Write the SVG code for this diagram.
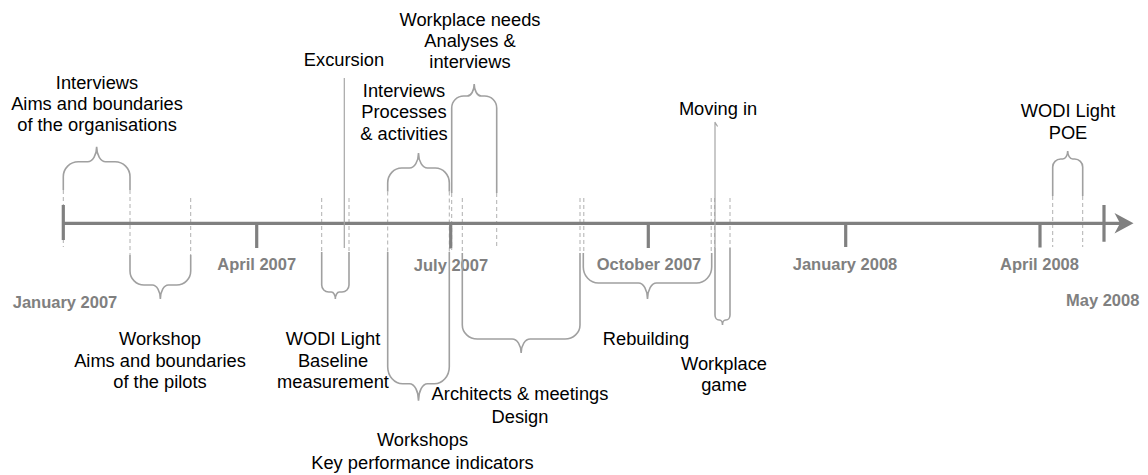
<svg xmlns="http://www.w3.org/2000/svg" width="1148" height="475" viewBox="0 0 1148 475">
<style>
.ev{font-family:"Liberation Sans",Arial,sans-serif;font-size:18.3px;fill:#000;text-anchor:middle}
.mo{font-family:"Liberation Sans",Arial,sans-serif;font-size:16.5px;font-weight:bold;fill:#808080;text-anchor:middle}
.br{fill:none;stroke:#a0a0a0;stroke-width:1.6}
.gd{fill:none;stroke:#b0b0b0;stroke-width:1;stroke-dasharray:4 3}
.ax{fill:none;stroke:#808080;stroke-width:3.3}
.tk{fill:none;stroke:#808080;stroke-width:3.2}
.ln{fill:none;stroke:#a6a6a6;stroke-width:1.2}
</style>
<rect width="1148" height="475" fill="#fff"/>
<g id="connectors">
<path class="gd" d="M63.3,190V247M130,190V255M190.7,198V255M321.7,198V252M349,198V252M387.7,191.5V252M449.3,191.5V252M451.7,193V250M462.3,198V253M496.7,193V248M580,198V253M583.8,198V253M711.2,198V253M714.6,198V248M730,198V248M1052.7,196V247M1082.7,196V247"/>
</g>
<g id="axis">
<path class="ax" d="M63,223.3H1121"/>
<polygon points="1133.5,223.3 1114.5,213 1120,223.3 1114.5,233.6" fill="#808080"/>
<path class="tk" d="M63.3,205V240M256.7,223V248M450.7,223V248.5M648.3,223V248M845.7,223V247M1040,223V247.5M1104,205V241.7"/>
</g>
<g id="months">
<text class="mo" x="65" y="308">January 2007</text>
<text class="mo" x="256.7" y="270">April 2007</text>
<text class="mo" x="451" y="270.5">July 2007</text>
<text class="mo" x="649" y="270">October 2007</text>
<text class="mo" x="845" y="270">January 2008</text>
<text class="mo" x="1039.5" y="270">April 2008</text>
<text class="mo" x="1102.7" y="306">May 2008</text>
</g>
<g id="interviews-organisations">
<path class="br" d="M63.3,190V176.7A15,15 0 0 1 78.3,161.7H87.65A9,15 0 0 0 96.65,146.7A9,15 0 0 0 105.65,161.7H115A15,15 0 0 1 130,176.7V190"/>
<text class="ev" x="97" y="89">Interviews</text>
<text class="ev" x="97" y="110">Aims and boundaries</text>
<text class="ev" x="97" y="131">of the organisations</text>
</g>
<g id="workshop-pilots">
<path class="br" d="M130,255V271A14,14 0 0 0 144,285H152.35A8,14 0 0 1 160.35,299A8,14 0 0 1 168.35,285H176.7A14,14 0 0 0 190.7,271V255"/>
<text class="ev" x="160" y="345">Workshop</text>
<text class="ev" x="160" y="366.5">Aims and boundaries</text>
<text class="ev" x="160" y="388">of the pilots</text>
</g>
<g id="wodi-baseline">
<path class="br" d="M321.7,252V285A7,7 0 0 0 328.7,292H331.35A4,7 0 0 1 335.35,299A4,7 0 0 1 339.35,292H342A7,7 0 0 0 349,285V252"/>
<text class="ev" x="333" y="345">WODI Light</text>
<text class="ev" x="333" y="366.5">Baseline</text>
<text class="ev" x="333" y="388">measurement</text>
</g>
<g id="excursion">
<path class="ln" d="M344.3,78V248"/>
<text class="ev" x="344" y="66">Excursion</text>
</g>
<g id="interviews-processes">
<path class="br" d="M387.7,191.5V183A14,15 0 0 1 401.7,168H409.5A9,15 0 0 0 418.5,153A9,15 0 0 0 427.5,168H435.3A14,15 0 0 1 449.3,183V191.5"/>
<text class="ev" x="404" y="96.5">Interviews</text>
<text class="ev" x="404" y="118">Processes</text>
<text class="ev" x="404" y="139.5">&amp; activities</text>
</g>
<g id="workshops-kpi">
<path class="br" d="M387.7,252V366.7A15,17 0 0 0 402.7,383.7H409.5A9,17 0 0 1 418.5,400.7A9,17 0 0 1 427.5,383.7H434.3A15,17 0 0 0 449.3,366.7V252"/>
<text class="ev" x="422.5" y="446">Workshops</text>
<text class="ev" x="422.5" y="468.5">Key performance indicators</text>
</g>
<g id="workplace-needs">
<path class="br" d="M451.7,193V108A12,12 0 0 1 463.7,96H467.2A7,12 0 0 0 474.2,84A7,12 0 0 0 481.2,96H484.7A12,12 0 0 1 496.7,108V193"/>
<text class="ev" x="470" y="26">Workplace needs</text>
<text class="ev" x="470" y="47">Analyses &amp;</text>
<text class="ev" x="470" y="68">interviews</text>
</g>
<g id="architects-design">
<path class="br" d="M462.3,253V325A15,14 0 0 0 477.3,339H512.15A9,14 0 0 1 521.15,353A9,14 0 0 1 530.15,339H565A15,14 0 0 0 580,325V253"/>
<text class="ev" x="520" y="399.5">Architects &amp; meetings</text>
<text class="ev" x="520" y="422.5">Design</text>
</g>
<g id="rebuilding">
<path class="br" d="M583.3,253V267A15,16 0 0 0 598.3,283H638.5A9,16 0 0 1 647.5,299A9,16 0 0 1 656.5,283H696.7A15,16 0 0 0 711.7,267V253"/>
<text class="ev" x="646" y="345">Rebuilding</text>
</g>
<g id="moving-in">
<path class="ln" d="M715,122V248M714.8,122L717.6,126.5"/>
<text class="ev" x="718" y="115">Moving in</text>
</g>
<g id="workplace-game">
<path class="br" d="M715,248V315A4,5 0 0 0 719,320H719.5A3,5 0 0 1 722.5,325A3,5 0 0 1 725.5,320H726A4,5 0 0 0 730,315V248"/>
<text class="ev" x="724" y="370">Workplace</text>
<text class="ev" x="724" y="391">game</text>
</g>
<g id="wodi-poe">
<path class="br" d="M1052.7,196V167A8,8 0 0 1 1060.7,159H1062.7A5,8 0 0 0 1067.7,151A5,8 0 0 0 1072.7,159H1074.7A8,8 0 0 1 1082.7,167V196"/>
<text class="ev" x="1068" y="117">WODI Light</text>
<text class="ev" x="1068" y="139">POE</text>
</g>
</svg>
